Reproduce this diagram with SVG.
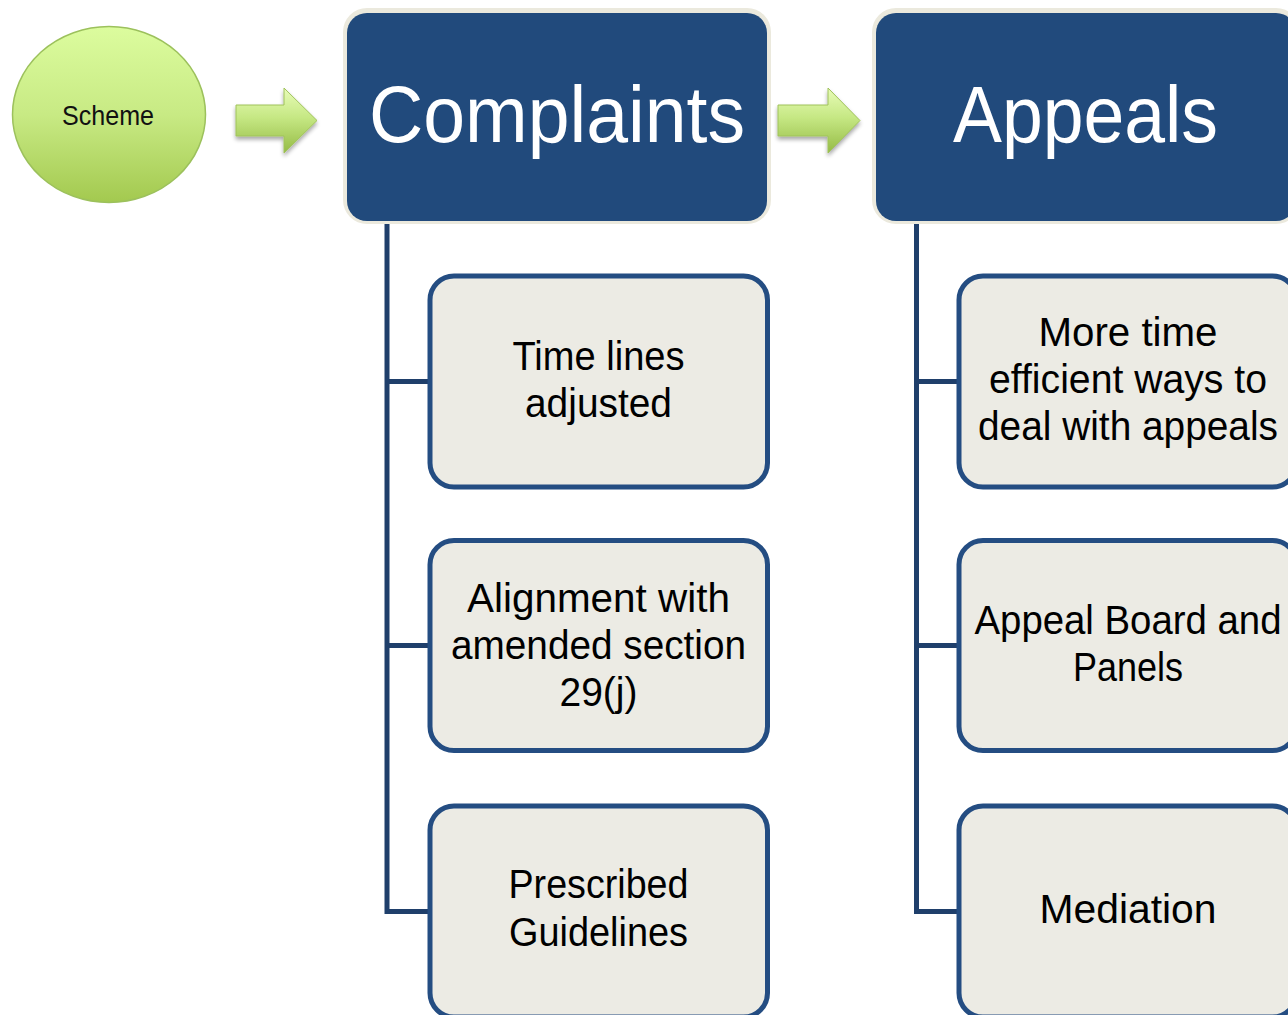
<svg xmlns="http://www.w3.org/2000/svg" width="1288" height="1015" viewBox="0 0 1288 1015">
  <defs>
    <linearGradient id="gCircle" x1="0" y1="0" x2="0" y2="1">
      <stop offset="0" stop-color="#dcfc9e"/>
      <stop offset="0.5" stop-color="#c8ea84"/>
      <stop offset="1" stop-color="#a3c94f"/>
    </linearGradient>
    <linearGradient id="gArrow" x1="0" y1="0" x2="0" y2="1">
      <stop offset="0" stop-color="#e8fcb8"/>
      <stop offset="0.45" stop-color="#c6e884"/>
      <stop offset="1" stop-color="#95bb45"/>
    </linearGradient>
    <filter id="shadow" x="-20%" y="-20%" width="140%" height="160%">
      <feGaussianBlur in="SourceAlpha" stdDeviation="2"/>
      <feOffset dx="0" dy="3" result="b"/>
      <feComponentTransfer><feFuncA type="linear" slope="0.35"/></feComponentTransfer>
      <feMerge><feMergeNode/><feMergeNode in="SourceGraphic"/></feMerge>
    </filter>
  </defs>
  <style>
    .hdrOuter { fill: #ebe9dd; }
    .hdrInner { fill: #214a7c; }
    .hdrText { fill: #ffffff; font-family: "Liberation Sans", Arial, sans-serif; font-size: 80px; text-anchor: middle; }
    .child { fill: #ecebe4; stroke: #244d82; stroke-width: 5; }
    .childText { fill: #000000; font-family: "Liberation Sans", Arial, sans-serif; font-size: 40px; text-anchor: middle; }
    .conn { fill: none; stroke: #1f3f6b; stroke-width: 5; }
    .arrow { fill: url(#gArrow); stroke: #9fc25a; stroke-width: 1; filter: url(#shadow); }
  </style>

  <g id="scheme">
    <ellipse cx="109" cy="114.5" rx="96.5" ry="88" fill="url(#gCircle)" stroke="#9cc15c" stroke-width="1.5"/>
    <text x="108" y="125" font-family="Liberation Sans, Arial, sans-serif" font-size="27" fill="#111111" text-anchor="middle" textLength="92" lengthAdjust="spacingAndGlyphs">Scheme</text>
  </g>

  <g id="arrows">
    <path class="arrow" d="M236,105 H284 V88 L317,120.5 L284,153 V136 H236 Z"/>
    <path class="arrow" d="M778,105 H828 V88 L860,120.5 L828,153 V136 H778 Z"/>
  </g>

  <g id="connectors">
    <path class="conn" d="M387,223 V911.5 H430"/>
    <path class="conn" d="M387,381.5 H430"/>
    <path class="conn" d="M387,645.5 H430"/>
    <path class="conn" d="M916.5,223 V911.5 H959"/>
    <path class="conn" d="M916.5,381.5 H959"/>
    <path class="conn" d="M916.5,645.5 H959"/>
  </g>

  <g id="complaints">
    <rect class="hdrOuter" x="343" y="8" width="428" height="216" rx="24"/>
    <rect class="hdrInner" x="347" y="13" width="420" height="208" rx="20"/>
    <text class="hdrText" x="557" y="142" textLength="376" lengthAdjust="spacingAndGlyphs">Complaints</text>
  </g>

  <g id="appeals">
    <rect class="hdrOuter" x="872" y="8" width="428" height="216" rx="24"/>
    <rect class="hdrInner" x="876" y="13" width="420" height="208" rx="20"/>
    <text class="hdrText" x="1085.5" y="142" textLength="265" lengthAdjust="spacingAndGlyphs">Appeals</text>
  </g>

  <g id="time-lines">
    <rect class="child" x="430" y="276" width="337.5" height="211" rx="24"/>
    <text class="childText" x="598.5" y="370" textLength="172" lengthAdjust="spacingAndGlyphs">Time lines</text>
    <text class="childText" x="598.5" y="417" textLength="147" lengthAdjust="spacingAndGlyphs">adjusted</text>
  </g>

  <g id="alignment">
    <rect class="child" x="430" y="540.5" width="337.5" height="210" rx="24"/>
    <text class="childText" x="598.5" y="612" textLength="263" lengthAdjust="spacingAndGlyphs">Alignment with</text>
    <text class="childText" x="598.5" y="659" textLength="295" lengthAdjust="spacingAndGlyphs">amended section</text>
    <text class="childText" x="598.5" y="706" textLength="78" lengthAdjust="spacingAndGlyphs">29(j)</text>
  </g>

  <g id="prescribed">
    <rect class="child" x="430" y="806" width="337.5" height="211" rx="24"/>
    <text class="childText" x="598.5" y="898" textLength="180" lengthAdjust="spacingAndGlyphs">Prescribed</text>
    <text class="childText" x="598.5" y="946" textLength="179" lengthAdjust="spacingAndGlyphs">Guidelines</text>
  </g>

  <g id="more-time">
    <rect class="child" x="959" y="276" width="337.5" height="211" rx="24"/>
    <text class="childText" x="1128" y="346" textLength="179" lengthAdjust="spacingAndGlyphs">More time</text>
    <text class="childText" x="1128" y="393" textLength="278" lengthAdjust="spacingAndGlyphs">efficient ways to</text>
    <text class="childText" x="1128" y="440" textLength="300" lengthAdjust="spacingAndGlyphs">deal with appeals</text>
  </g>

  <g id="appeal-board">
    <rect class="child" x="959" y="540.5" width="337.5" height="210" rx="24"/>
    <text class="childText" x="1128" y="634" textLength="307" lengthAdjust="spacingAndGlyphs">Appeal Board and</text>
    <text class="childText" x="1128" y="681" textLength="110" lengthAdjust="spacingAndGlyphs">Panels</text>
  </g>

  <g id="mediation">
    <rect class="child" x="959" y="806" width="337.5" height="211" rx="24"/>
    <text class="childText" x="1128" y="923" textLength="177" lengthAdjust="spacingAndGlyphs">Mediation</text>
  </g>
</svg>
